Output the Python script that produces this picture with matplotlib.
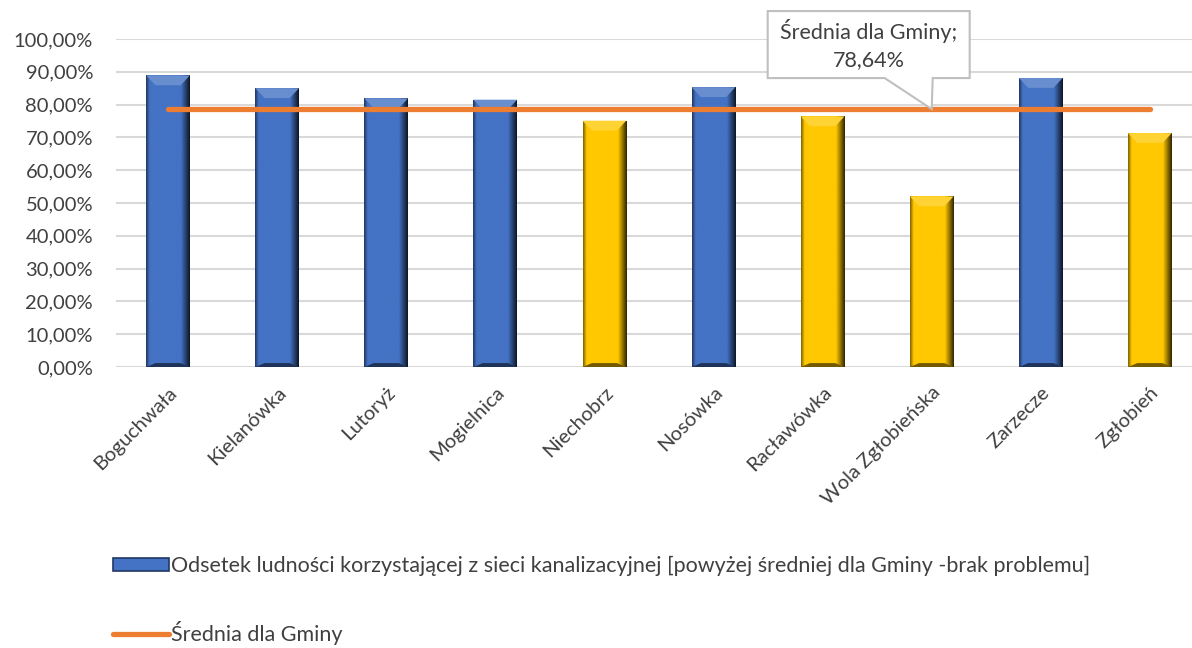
import numpy as np
import matplotlib.pyplot as plt
from matplotlib.colors import to_rgb
from matplotlib.patches import Polygon, Patch
from matplotlib.transforms import IdentityTransform
from matplotlib.ticker import FuncFormatter

plt.rcParams['font.family'] = ['Lato', 'DejaVu Sans']

villages = ['Boguchwała', 'Kielanówka', 'Lutoryż', 'Mogielnica', 'Niechobrz',
            'Nosówka', 'Racławówka', 'Wola Zgłobieńska', 'Zarzecze', 'Zgłobień']
share = [0.889, 0.850, 0.819, 0.815, 0.751, 0.853, 0.764, 0.520, 0.881, 0.713]
avg = 0.7864

series_label = 'Odsetek ludności korzystającej z sieci kanalizacyjnej [powyżej średniej dla Gminy -brak problemu]'
avg_label = 'Średnia dla Gminy'

BLUE = '#4472C4'
YELLOW = '#FFC800'
ORANGE = '#ED7D31'
TXT = '#404040'
FS = 14.5

fig = plt.figure(figsize=(11.92, 6.48), dpi=100)
ax = fig.add_axes([0.0973, 0.4336, 0.9027, 0.5062])

x = np.arange(len(villages))
vals = np.array(share)
colors = [BLUE if v >= avg else YELLOW for v in vals]
w = 0.40

bars = ax.bar(x, vals, width=w, color=colors, zorder=2, linewidth=0)


def shade(c, f):
    r = np.array(to_rgb(c))
    return tuple(np.clip(r * f, 0, 1)) if f <= 1 else tuple(np.clip(r + (1 - r) * (f - 1), 0, 1))


# bevel look like the Excel bars
t = np.linspace(0, 1, 80)
fac = np.ones_like(t)
fac[t < 0.08] = 0.5 + 0.5 * t[t < 0.08] / 0.08
fac[t > 0.8] = 1 - 0.8 * (t[t > 0.8] - 0.8) / 0.2
for p, c in zip(bars.patches, colors):
    base = np.array(to_rgb(c))
    prof = np.clip(base[None, :] * fac[:, None], 0, 1)[None, :, :]
    x0, h = p.get_x(), p.get_height()
    x1 = x0 + p.get_width()
    im = ax.imshow(prof, extent=[x0, x1, 0, h], aspect='auto', zorder=2.1,
                   interpolation='bilinear')
    im.set_clip_path(p)
    bw, bh = 0.085, 0.03
    ax.add_patch(Polygon([(x0, h), (x1, h), (x1 - bw, h - bh), (x0 + bw, h - bh)],
                         closed=True, color=shade(c, 1.2), zorder=2.2, lw=0))
    ax.add_patch(Polygon([(x0, 0), (x1, 0), (x1 - bw, 0.012), (x0 + bw, 0.012)],
                         closed=True, color=shade(c, 0.45), zorder=2.2, lw=0))

line, = ax.plot(x, [avg] * len(x), color=ORANGE, lw=3.8, solid_capstyle='round', zorder=3)

ax.set_xlim(-0.477, 9.386)
ax.set_ylim(0, 1.0)
ax.set_yticks(np.arange(0, 1.01, 0.1))
ax.yaxis.set_major_formatter(FuncFormatter(lambda v, _: f'{v * 100:.2f}%'.replace('.', ',')))
ax.set_xticks(x)
ax.set_xticklabels(villages, rotation=45, ha='right', rotation_mode='anchor')
ax.tick_params(length=0, labelsize=FS, colors=TXT)
ax.tick_params(axis='x', pad=12)
ax.tick_params(axis='y', pad=16.5)
ax.grid(axis='y', color='#D9D9D9', lw=1.5, zorder=0)
ax.set_axisbelow(True)
for s in ax.spines.values():
    s.set_visible(False)

# callout for the average (box + pointer as one outline)
fig.canvas.draw()
tx, ty = ax.transData.transform((7.0, avg))
rel = [(-164, 31), (-164, 98), (38, 98), (38, 31), (1, 31), (0, 0), (-47, 31)]
callout = Polygon([(tx + dx, ty + dy) for dx, dy in rel], closed=True,
                  transform=IdentityTransform(), fc='white', ec='#BFBFBF', lw=1.5, zorder=5)
ax.add_artist(callout)
callout.set_clip_on(False)
ax.annotate(f'{avg_label};\n{avg * 100:.2f}%'.replace('.', ','),
            xy=(7.0, avg), xytext=(-63, 64.5), textcoords='offset pixels',
            ha='center', va='center', fontsize=15.5, color=TXT, linespacing=1.4,
            zorder=6, annotation_clip=False)

bar_handle = Patch(fc=BLUE, ec='#203864', lw=1.2)
leg = fig.legend([bar_handle, line], [series_label, avg_label],
                 loc='upper left', bbox_to_anchor=(0.095, 0.142), frameon=False,
                 handlelength=2.6, handleheight=0.5, handletextpad=0.1,
                 labelspacing=2.1, fontsize=15.5, borderpad=0, borderaxespad=0)
for txt in leg.get_texts():
    txt.set_color(TXT)

fig.savefig('out.png', dpi=100)
